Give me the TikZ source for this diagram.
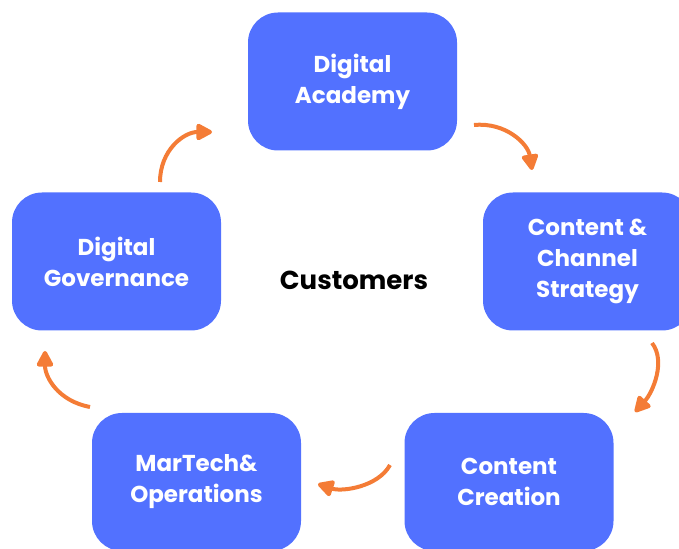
\documentclass[tikz,border=0pt]{standalone}
\usepackage{fontspec}
\setmainfont{Poppins}
\usetikzlibrary{arrows.meta,positioning}

\definecolor{boxblue}{HTML}{5271FF}
\definecolor{arcorange}{HTML}{F47C36}

\tikzset{
    stage/.style={fill=boxblue, rounded corners=15pt, minimum width=104.5pt,
        minimum height=69pt, text=white, align=center,
        font=\fontsize{11.5}{15.5}\selectfont\bfseries},
    cycle arrow/.style={arcorange, line width=2pt,
        -{Triangle[length=9pt,width=9pt,round]}}
}

\begin{document}
\begin{tikzpicture}[x=0.5pt,y=-0.5pt]
    \clip (0,0) rectangle (679,549);
    \node[stage] (acad) at (352.5,81.5) {Digital\\Academy};
    \node[stage] (strat) at (587.5,261.5) {Content \&\\Channel\\Strategy};
    \node[stage] (crea) at (509,482) {Content\\Creation};
    \node[stage] (ops) at (196.5,482) {MarTech\&\\Operations};
    \node[stage] (gov) at (116.5,261.5) {Digital\\Governance};
    \node[font=\fontsize{13}{16}\selectfont\bfseries] (cust) at (354,280) {Customers};

    \coordinate (a1s) at (160,182);
    \coordinate (a1e) at (212,132);
    \coordinate (a2s) at (474,125);
    \coordinate (a2e) at (532,170);
    \coordinate (a3s) at (652,343);
    \coordinate (a3e) at (635,412);
    \coordinate (a4s) at (390,465);
    \coordinate (a4e) at (318,484);
    \coordinate (a5s) at (90,407);
    \coordinate (a5e) at (45,351);

    \draw[cycle arrow] (a1s) .. controls +(0,-32) and +(-28,0) .. (a1e);
    \draw[cycle arrow] (a2s) .. controls +(32,-3) and +(-4,-26) .. (a2e);
    \draw[cycle arrow] (a3s) .. controls +(14,18) and +(18,-20) .. (a3e);
    \draw[cycle arrow] (a4s) .. controls +(-12,22) and +(24,8) .. (a4e);
    \draw[cycle arrow] (a5s) .. controls +(-32,-6) and +(0,26) .. (a5e);
\end{tikzpicture}
\end{document}
